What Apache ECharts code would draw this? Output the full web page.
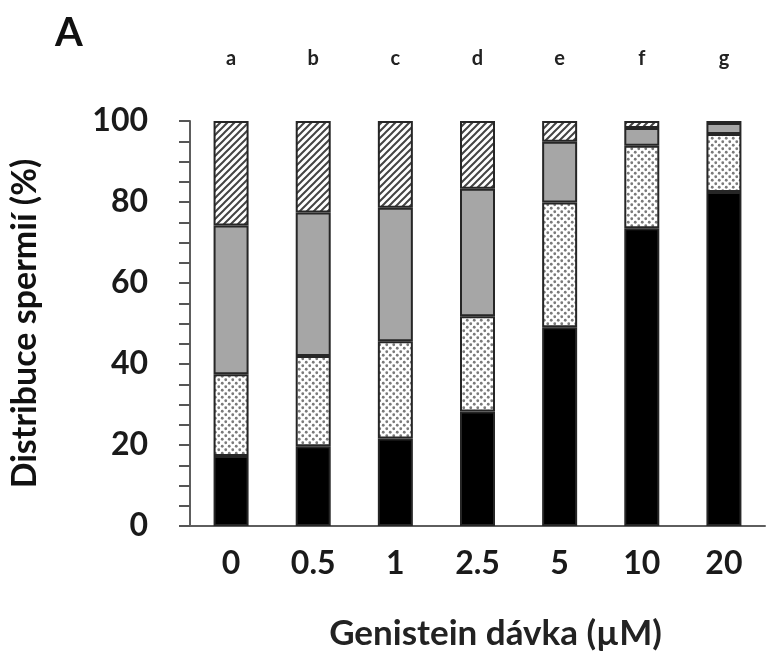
<!DOCTYPE html>
<html>
<head>
<meta charset="utf-8">
<script src="https://cdn.jsdelivr.net/npm/echarts@6/dist/echarts.min.js"></script>
<style>
  html, body { margin: 0; padding: 0; background: #ffffff; }
  #chartBar { width: 767px; height: 656px; }
</style>
</head>
<body>
<div id="chartBar"></div>
<script>
// doses on the x axis and the group letters above the bars
const categories = ['0', '0.5', '1', '2.5', '5', '10', '20'];
const letters = ['a', 'b', 'c', 'd', 'e', 'f', 'g'];
const yTicks = [0, 20, 40, 60, 80, 100];

// stacked segments, bottom to top (%)
const blackSeg = [17.3, 19.7, 21.6, 28.3, 49.1, 73.5, 82.5];
const dottedSeg = [20.2, 22.3, 24.0, 23.5, 30.8, 20.4, 14.3];
const greySeg = [36.7, 35.4, 33.0, 31.5, 15.0, 4.4, 2.7];
const hatchedSeg = [25.8, 22.6, 21.4, 16.7, 5.1, 1.7, 0.5];

// fill patterns
function dotPattern() {
  const c = document.createElement('canvas');
  c.width = 7; c.height = 7;
  const ctx = c.getContext('2d');
  ctx.fillStyle = '#ffffff';
  ctx.fillRect(0, 0, 7, 7);
  ctx.fillStyle = '#7a7a7a';
  [[1.75, 1.75], [5.25, 5.25]].forEach(function (p) {
    ctx.beginPath();
    ctx.arc(p[0], p[1], 1.4, 0, Math.PI * 2);
    ctx.fill();
  });
  return c;
}
function hatchPattern() {
  const c = document.createElement('canvas');
  c.width = 7; c.height = 7;
  const ctx = c.getContext('2d');
  ctx.fillStyle = '#ffffff';
  ctx.fillRect(0, 0, 7, 7);
  ctx.strokeStyle = '#444444';
  ctx.lineWidth = 2;
  ctx.beginPath();
  ctx.moveTo(0, 7); ctx.lineTo(7, 0);
  ctx.moveTo(-1, 1); ctx.lineTo(1, -1);
  ctx.moveTo(6, 8); ctx.lineTo(8, 6);
  ctx.stroke();
  return c;
}

const font = 'Lato';
const barStyle = function (color) {
  return { color: color, borderColor: '#262626', borderWidth: 2 };
};

const option = {
  animation: false,
  backgroundColor: '#ffffff',
  title: {
    text: 'A',
    left: 50,
    top: 8,
    textStyle: { fontFamily: font, fontWeight: 'bold', fontSize: 40, color: '#111' },
  },
  grid: { left: 180, right: 2, top: 121, bottom: 126, containLabel: false },
  xAxis: [
    {
      type: 'category',
      data: categories,
      name: 'Genistein dávka (µM)',
      nameLocation: 'middle',
      nameGap: 90,
      nameTextStyle: { fontFamily: font, fontWeight: 'bold', fontSize: 35, color: '#222', padding: [0, 0, 0, 36] },
      axisLine: { lineStyle: { color: '#5e5e5e', width: 2 } },
      axisTick: { alignWithLabel: true, length: 10, lineStyle: { color: '#444', width: 2 } },
      axisLabel: { fontFamily: font, fontWeight: 'bold', fontSize: 32, color: '#1a1a1a', margin: 22 },
    },
    {
      type: 'category',
      data: letters,
      position: 'top',
      axisLine: { show: false },
      axisTick: { show: false },
      axisLabel: { fontFamily: font, fontWeight: 'bold', fontSize: 20, color: '#222', margin: 52 },
    },
  ],
  yAxis: {
    type: 'value',
    min: yTicks[0],
    max: yTicks[yTicks.length - 1],
    interval: 20,
    name: 'Distribuce spermií (%)',
    nameLocation: 'middle',
    nameGap: 148,
    nameRotate: 90,
    nameTextStyle: { fontFamily: font, fontWeight: 'bold', fontSize: 34, color: '#111' },
    axisLine: { show: true, lineStyle: { color: '#5e5e5e', width: 2 } },
    axisTick: { show: true, length: 11, lineStyle: { color: '#555', width: 2 } },
    minorTick: { show: true, splitNumber: 4, length: 11, lineStyle: { color: '#555', width: 2 } },
    splitLine: { show: false },
    axisLabel: { fontFamily: font, fontWeight: 'bold', fontSize: 32, color: '#1a1a1a', margin: 42 },
  },
  series: [
    { name: 'black', type: 'bar', stack: 'total', barWidth: 35, data: blackSeg, itemStyle: barStyle('#000000') },
    { name: 'dotted', type: 'bar', stack: 'total', barWidth: 35, data: dottedSeg,
      itemStyle: barStyle({ image: dotPattern(), repeat: 'repeat' }) },
    { name: 'grey', type: 'bar', stack: 'total', barWidth: 35, data: greySeg, itemStyle: barStyle('#a6a6a6') },
    { name: 'hatched', type: 'bar', stack: 'total', barWidth: 35, data: hatchedSeg,
      itemStyle: barStyle({ image: hatchPattern(), repeat: 'repeat' }) },
  ],
};

const myChart = echarts.init(document.getElementById('chartBar'));
myChart.setOption(option);
window.addEventListener('resize', function () {
  myChart.resize();
});
</script>
</body>
</html>
